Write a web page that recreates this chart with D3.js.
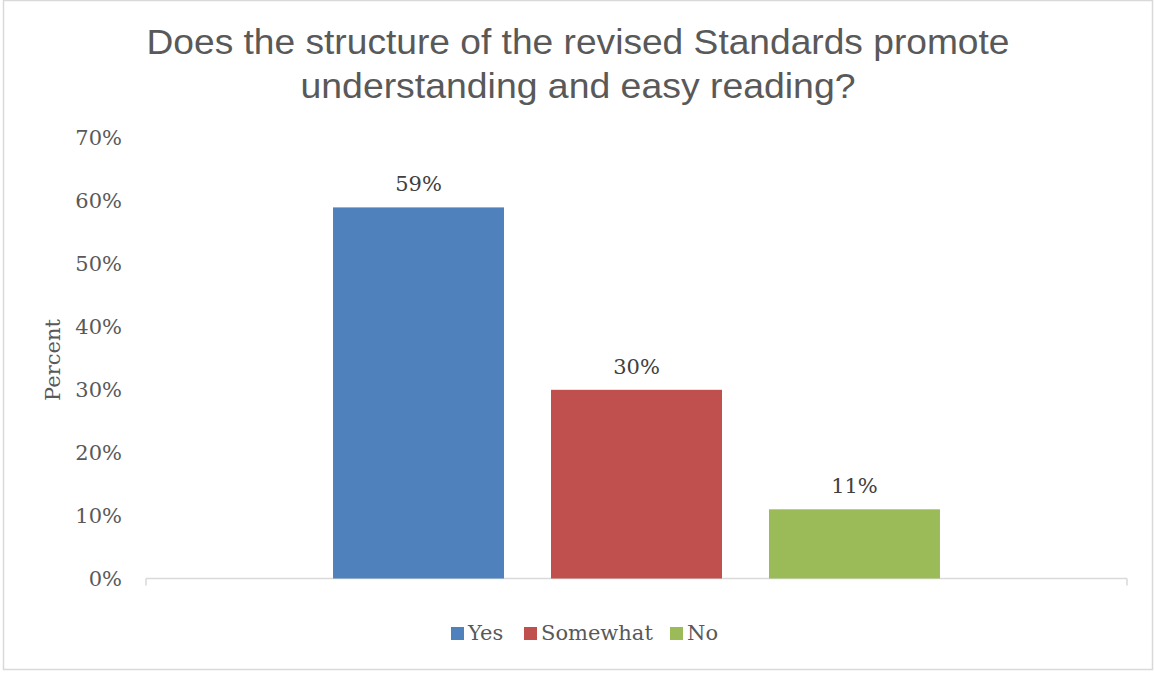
<!DOCTYPE html>
<html>
<head>
<meta charset="utf-8">
<script src="https://cdn.jsdelivr.net/npm/d3@7"></script>
<style>
  body { margin: 0; background: #fff; }
  svg { display: block; }
</style>
</head>
<body>
<div id="grafico"></div>
<script>
// Datos del gráfico
let series = ["Yes", "Somewhat", "No"];
let valores = [0.59, 0.30, 0.11];
let etiquetas = ["59%", "30%", "11%"];
let ticks_y = [0, 0.1, 0.2, 0.3, 0.4, 0.5, 0.6, 0.7];
let colores = ["#4F81BD", "#C0504D", "#9BBB59"];
let titulo = ["Does the structure of the revised Standards promote", "understanding and easy reading?"];

let width = 1155, height = 673;
let fuente = "'DejaVu Serif', serif";
let gris = "#595959";

let svg = d3.select("#grafico")
    .append("svg")
    .attr("width", width)
    .attr("height", height);

// Borde del área del gráfico
svg.append("rect")
    .attr("x", 3.5).attr("y", 0.5)
    .attr("width", 1149).attr("height", 669)
    .attr("fill", "#fff")
    .attr("stroke", "#d9d9d9")
    .attr("stroke-width", 1.5);

// Título
let anchos = [863, 555];
svg.append("g").selectAll("text")
    .data(titulo)
    .enter()
    .append("text")
    .attr("x", 578)
    .attr("y", function(d, i){ return 54 + i * 44; })
    .attr("text-anchor", "middle")
    .attr("textLength", function(d, i){ return anchos[i]; })
    .attr("lengthAdjust", "spacingAndGlyphs")
    .style("font-family", "'Liberation Sans', Arial, sans-serif")
    .style("font-size", "35px")
    .style("fill", gris)
    .text(function(d){ return d; });

let x = d3.scaleBand()
    .domain(series)
    .range([146, 1127])
    .paddingInner(0.2156)
    .paddingOuter(0.858);

let y = d3.scaleLinear()
    .domain([0, 0.7])
    .range([578.5, 138.2]);

// Eje Y (solo etiquetas)
let ejeY = svg.append("g")
    .attr("transform", "translate(128,0)")
    .call(d3.axisLeft(y).tickValues(ticks_y).tickFormat(d3.format(".0%")).tickSize(0).tickPadding(6));
ejeY.select(".domain").remove();
ejeY.selectAll("text")
    .style("font-family", fuente)
    .style("font-size", "21px")
    .style("fill", gris);

// Eje X
let ejeX = svg.append("g")
    .attr("transform", "translate(0,578.5)");
ejeX.append("line")
    .attr("x1", 146).attr("x2", 1127)
    .attr("stroke", "#d9d9d9").attr("stroke-width", 1.5);
ejeX.selectAll("line.tick")
    .data([146, 1127])
    .enter()
    .append("line")
    .attr("class", "tick")
    .attr("x1", function(d){ return d; })
    .attr("x2", function(d){ return d; })
    .attr("y1", 0).attr("y2", 7)
    .attr("stroke", "#d9d9d9").attr("stroke-width", 1.5);

// Etiqueta eje Y
svg.append("text")
    .attr("transform", "translate(60,360) rotate(-90)")
    .attr("text-anchor", "middle")
    .style("font-family", fuente)
    .style("font-size", "21px")
    .style("fill", gris)
    .text("Percent");

// Barras
svg.append("g").selectAll("rect")
    .data(valores)
    .enter()
    .append("rect")
    .attr("x", function(d, i){ return x(series[i]); })
    .attr("y", function(d){ return y(d); })
    .attr("width", x.bandwidth())
    .attr("height", function(d){ return y(0) - y(d); })
    .attr("fill", function(d, i){ return colores[i]; });

// Etiquetas de datos
svg.append("g").selectAll("text")
    .data(valores)
    .enter()
    .append("text")
    .attr("x", function(d, i){ return x(series[i]) + x.bandwidth() / 2; })
    .attr("y", function(d){ return y(d) - 16; })
    .attr("text-anchor", "middle")
    .style("font-family", fuente)
    .style("font-size", "21px")
    .style("fill", "#404040")
    .text(function(d, i){ return etiquetas[i]; });

// Leyenda
let pos_leyenda = [451, 524, 670];
let leyenda = svg.append("g").selectAll("g")
    .data(series)
    .enter()
    .append("g")
    .attr("transform", function(d, i){ return "translate(" + pos_leyenda[i] + ",627)"; });
leyenda.append("rect")
    .attr("width", 13).attr("height", 13)
    .attr("fill", function(d, i){ return colores[i]; });
leyenda.append("text")
    .attr("x", 17)
    .attr("y", 13)
    .style("font-family", fuente)
    .style("font-size", "21px")
    .style("fill", gris)
    .text(function(d){ return d; });
</script>
</body>
</html>
